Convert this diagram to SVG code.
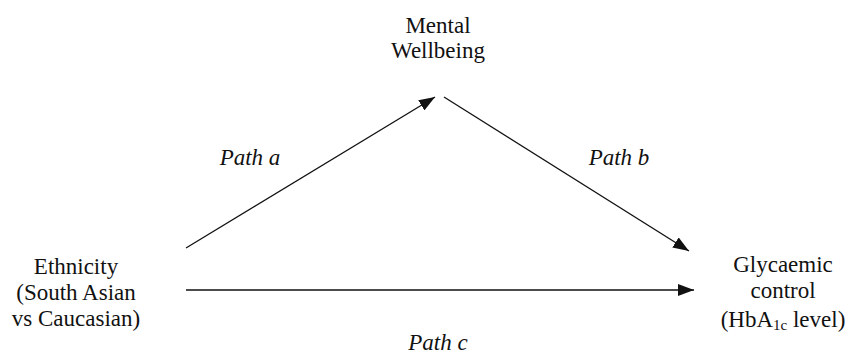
<svg xmlns="http://www.w3.org/2000/svg" width="859" height="355" viewBox="0 0 859 355">
<style>
.t{font-size:23px;fill:#111;text-anchor:middle}
.lbl{font-style:italic}
.c line{stroke:#111;stroke-width:1.3;fill:none}
</style>
<defs>
<marker id="ah" viewBox="0 0 16 12" refX="16" refY="6" markerWidth="16" markerHeight="12" markerUnits="userSpaceOnUse" orient="auto">
<path d="M0,0 L16,6 L0,12 Z" fill="#111"/>
</marker>
</defs>
<rect width="859" height="355" fill="#fff"/>
<g font-family="Liberation Serif" class="t">
<g id="ethnicity">
<text x="76" y="274">Ethnicity</text>
<text x="76" y="300">(South Asian</text>
<text x="76" y="326">vs Caucasian)</text>
</g>
<g id="wellbeing">
<text x="438" y="33">Mental</text>
<text x="438" y="58">Wellbeing</text>
</g>
<g id="glycaemic">
<text x="783" y="272">Glycaemic</text>
<text x="783" y="298">control</text>
<text x="783" y="327">(HbA<tspan font-size="15" dy="3">1c</tspan><tspan dy="-3"> level)</tspan></text>
</g>
<g id="labels">
<text class="lbl" x="250" y="165">Path a</text>
<text class="lbl" x="619" y="165">Path b</text>
<text class="lbl" x="438" y="350">Path c</text>
</g>
</g>
<g class="c" id="connectors">
<line x1="186" y1="248" x2="435" y2="97" marker-end="url(#ah)"/>
<line x1="444" y1="97" x2="689" y2="251" marker-end="url(#ah)"/>
<line x1="186" y1="290" x2="694" y2="290" marker-end="url(#ah)"/>
</g>
</svg>
